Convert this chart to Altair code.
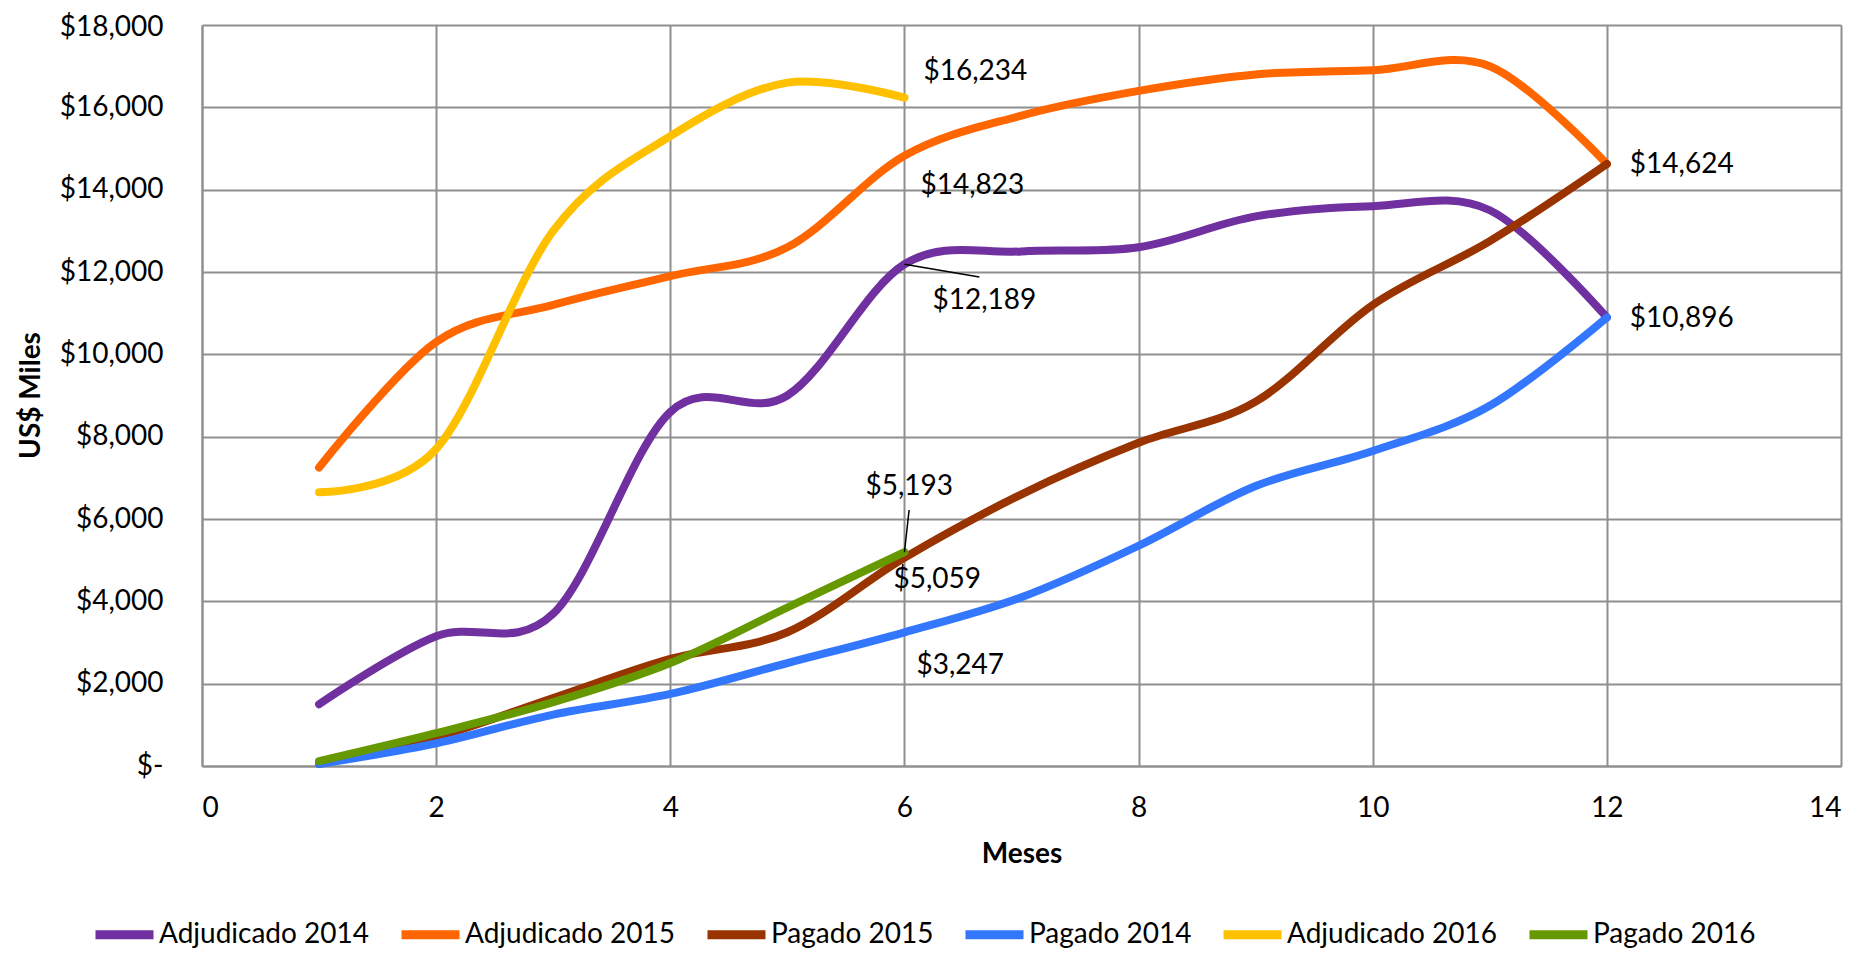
import altair as alt
import pandas as pd

# ---------------- data ----------------
meses = list(range(1, 13))
series_names = ["Adjudicado 2014", "Adjudicado 2015", "Pagado 2015",
                "Pagado 2014", "Adjudicado 2016", "Pagado 2016"]
colors = ["#7030A0", "#FF6600", "#993300", "#3377FF", "#FFC000", "#669900"]

adjudicado_2014 = [1500, 3150, 3700, 8600, 9000, 12189, 12500, 12600, 13350, 13600, 13500, 10896]
adjudicado_2015 = [7250, 10300, 11200, 11900, 12600, 14823, 15800, 16400, 16800, 16900, 17000, 14624]
pagado_2015 = [50, 700, 1650, 2600, 3250, 5059, 6600, 7850, 8850, 11200, 12750, 14624]
pagado_2014 = [50, 550, 1250, 1750, 2500, 3247, 4100, 5350, 6800, 7650, 8750, 10896]
adjudicado_2016 = [6650, 7700, 13000, 15300, 16600, 16234]
pagado_2016 = [120, 800, 1550, 2500, 3850, 5193]

x_ticks = list(range(0, 15, 2))
y_ticks = list(range(0, 18001, 2000))

series_values = {
    "Adjudicado 2014": adjudicado_2014,
    "Adjudicado 2015": adjudicado_2015,
    "Pagado 2015": pagado_2015,
    "Pagado 2014": pagado_2014,
    "Adjudicado 2016": adjudicado_2016,
    "Pagado 2016": pagado_2016,
}

# data labels: (series, month, dx px, dy px)
label_specs = [
    ("Adjudicado 2016", 6, 19, -26),
    ("Adjudicado 2015", 6, 16, 30),
    ("Adjudicado 2014", 6, 28, 37),
    ("Pagado 2016", 6, -39, -65),
    ("Pagado 2015", 6, -11, 22),
    ("Pagado 2014", 6, 12, 34),
    ("Pagado 2015", 12, 23, 1),
    ("Adjudicado 2014", 12, 23, 2),
]
# leader lines: (series, month, end x, end y) in data units
leader_specs = [
    ("Adjudicado 2014", 6, 6.64, 11880),
    ("Pagado 2016", 6, 6.04, 6218),
]

rows = []
for i, name in enumerate(series_names):
    for m, v in zip(meses, series_values[name]):
        rows.append({"Mes": m, "Valor": v, "Serie": name, "idx": i})
df = pd.DataFrame(rows)

FONT = "Lato"
x_scale = alt.Scale(domain=[0, 14], nice=False, zero=False)
y_scale = alt.Scale(domain=[0, 18000], nice=False)

x_axis = alt.Axis(values=x_ticks, title="Meses", labelPadding=28,
                  titleY=88, titleBaseline="middle")
y_axis = alt.Axis(values=y_ticks, title="US$ Miles", labelPadding=39,
                  labelExpr="datum.value == 0 ? '$-\u2002\u2002\u2002' : '$' + format(datum.value, ',')",
                  labelOffset={"condition": {"test": "datum.value >= 18000", "value": 2}, "value": 0},
                  titleX=-171, titleY=370, titleAngle=270,
                  titleAlign="center", titleBaseline="middle")

lines = alt.Chart(df).mark_line(
    interpolate="cardinal", strokeWidth=8, strokeCap="round", strokeJoin="round"
).encode(
    x=alt.X("Mes:Q", scale=x_scale, axis=x_axis),
    y=alt.Y("Valor:Q", scale=y_scale, axis=y_axis),
    color=alt.Color("Serie:N",
                    scale=alt.Scale(domain=series_names, range=colors),
                    sort=series_names,
                    legend=alt.Legend(orient="none", legendX=-111, legendY=876,
                                      direction="horizontal", title=None,
                                      symbolType="stroke", symbolSize=3364,
                                      symbolStrokeWidth=9, symbolOpacity=1,
                                      labelFont=FONT, labelFontSize=28,
                                      labelColor="black", labelLimit=400,
                                      columnPadding=13, labelOffset=1)),
)

layers = [lines]
for name, mes, dx, dy in label_specs:
    v = series_values[name][mes - 1]
    d = pd.DataFrame({"Mes": [mes], "Valor": [v], "label": ["$" + format(v, ",")]})
    layers.append(
        alt.Chart(d).mark_text(align="left", baseline="middle", dx=dx, dy=dy,
                               font=FONT, fontSize=28, color="black").encode(
            x=alt.X("Mes:Q", scale=x_scale, axis=x_axis),
            y=alt.Y("Valor:Q", scale=y_scale, axis=y_axis),
            text="label:N",
        )
    )

lead_rows = []
for name, mes, ex, ey in leader_specs:
    lead_rows.append({"Mes": mes, "Valor": series_values[name][mes - 1], "x2": ex, "y2": ey})
leaders = alt.Chart(pd.DataFrame(lead_rows)).mark_rule(color="black", strokeWidth=1.5).encode(
    x=alt.X("Mes:Q", scale=x_scale, axis=x_axis),
    y=alt.Y("Valor:Q", scale=y_scale, axis=y_axis),
    x2="x2:Q",
    y2="y2:Q",
)
layers.append(leaders)

chart = alt.layer(*layers).properties(
    width=1639, height=741,
    autosize=alt.AutoSizeParams(type="none"),
    padding={"left": 194, "top": 17, "right": 13, "bottom": 183},
).configure_view(stroke=None).configure_axis(
    grid=True, gridColor="#8f8f8f", gridWidth=2,
    domainColor="#8f8f8f", domainWidth=2, ticks=False,
    labelFont=FONT, labelFontSize=28, labelColor="black",
    titleFont=FONT, titleFontSize=28, titleFontWeight="bold", titleColor="black",
)

chart.save("out.html", embed_options={"renderer": "svg", "actions": False})
